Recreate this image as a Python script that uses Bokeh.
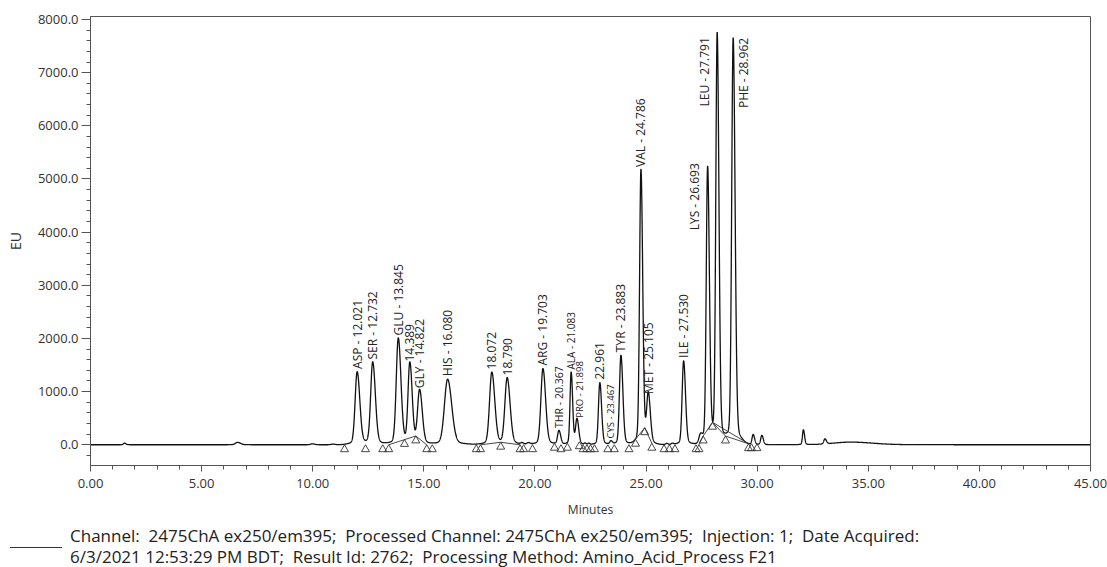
import math
import numpy as np
from bokeh.plotting import figure
from bokeh.layouts import column
from bokeh.models import (Range1d, SingleIntervalTicker, NumeralTickFormatter,
                          ColumnDataSource, Div)
from bokeh.core.properties import value
from bokeh.embed import file_html
from bokeh.resources import INLINE

# ---------------- data ----------------
# apex retention position (min), apex height (EU), peak sigma (min)
peak_times = [1.53, 6.62, 9.98, 10.9,
              12.00, 12.70, 13.85, 14.37, 14.81, 16.07, 18.06, 18.75,
              19.42, 19.70, 20.36, 21.08, 21.63, 21.89, 22.25, 22.42,
              22.92, 23.42, 23.87, 24.77, 25.10, 25.93, 26.18, 26.69,
              27.45, 27.77, 28.20, 28.92,
              29.82, 30.21, 32.08, 33.05, 34.2]
peak_heights = [30, 45, 18, 12,
                1370, 1548, 2000, 1510, 1008, 1233, 1360, 1247,
                25, 30, 1435, 260, 1360, 470, 25, 25,
                1170, 60, 1685, 5170, 900, 25, 25, 1578,
                150, 5200, 7700, 7650,
                190, 175, 280, 95, 50]
peak_sigmas = [0.05, 0.10, 0.08, 0.08,
               0.09, 0.09, 0.09, 0.08, 0.09, 0.14, 0.10, 0.10,
               0.05, 0.06, 0.09, 0.06, 0.05, 0.06, 0.04, 0.04,
               0.06, 0.05, 0.065, 0.06, 0.07, 0.05, 0.05, 0.065,
               0.07, 0.06, 0.06, 0.065,
               0.05, 0.05, 0.04, 0.05, 0.75]
peak_labels = ["", "", "", "",
               "ASP - 12.021", "SER - 12.732", "GLU - 13.845", "14.389",
               "GLY - 14.822", "HIS - 16.080", "18.072", "18.790",
               "", "", "ARG - 19.703", "THR - 20.367", "ALA - 21.083",
               "PRO - 21.898", "", "",
               "22.961", "CYS - 23.467", "TYR - 23.883", "VAL - 24.786",
               "MET - 25.105", "", "", "ILE - 27.530",
               "", "LYS - 26.693", "LEU - 27.791", "PHE - 28.962",
               "", "", "", "", ""]

# integration marks (peak start / end points): time (min), level (EU)
tri_t = [11.43, 12.375, 13.15, 13.42, 14.13, 14.64, 15.13, 15.38, 17.36, 17.55,
         18.46, 19.33, 19.49, 19.89, 20.88, 21.17, 21.46, 22.0, 22.17, 22.34,
         22.5, 22.68, 23.28, 23.57, 24.23, 24.525, 24.94, 25.26, 25.81, 26.05,
         26.30, 27.25, 27.38, 27.57, 27.99, 28.575, 29.61, 29.745, 29.99]
tri_eu = [0, 0, 0, 0, 100, 165, 0, 0, 0, 0,
          47, 0, 0, 0, 28, 0, 28, 56, 0, 0,
          0, 0, 0, 0, 0, 103, 320, 28, 0, 0,
          0, 0, 0, 164, 423, 164, 19, 19, 19]

# integration baselines drawn between marks
base_t = [[13.42, 14.64, 15.13], [17.55, 18.46, 19.33], [24.525, 24.94, 25.26],
          [27.38, 27.57, 27.99, 28.575, 29.61], [27.99, 29.61]]
base_eu = [[0, 165, 0], [0, 47, 0], [103, 320, 28],
           [0, 164, 423, 164, 19], [423, 19]]

x_ticks_interval = 5
y_ticks_interval = 1000
legend_line1 = ("Channel:&nbsp; 2475ChA ex250/em395;&nbsp; Processed Channel: 2475ChA ex250/em395;"
                "&nbsp; Injection: 1;&nbsp; Date Acquired:")
legend_line2 = ("6/3/2021 12:53:29 PM BDT;&nbsp; Result Id: 2762;&nbsp; "
                "Processing Method: Amino_Acid_Process F21")

# ---------------- styles ----------------
FONT = "Open Sans"
label_size = {"THR - 20.367": "10.5px", "ALA - 21.083": "10px",
              "PRO - 21.898": "9.5px", "CYS - 23.467": "9.5px"}
# pixel offsets for labels that were moved aside of their apex
label_shift = {"LYS - 26.693": (-13, 62), "LEU - 27.791": (-13, 71),
               "PHE - 28.962": (10, 70), "PRO - 21.898": (3, -2)}

X0, X1 = 0.0, 45.0
Y0, Y1 = -390.0, 8056.0
W, H_MAIN, H_LEG = 1107, 520, 47
B_LEFT, B_RIGHT, B_TOP, B_BOTTOM = 90, 17, 16, 55
frame_h = H_MAIN - B_TOP - B_BOTTOM
eu_per_px = (Y1 - Y0) / frame_h

# ---------------- trace ----------------
t = np.arange(X0, X1 + 1e-9, 0.004)
sig = np.zeros_like(t)
for t0, h, s in zip(peak_times, peak_heights, peak_sigmas):
    se = np.where(t < t0, s, s * 1.3)
    core = np.exp(-0.5 * ((t - t0) / se) ** 2)
    tail = np.exp(-0.5 * ((t - t0) / (3.5 * se)) ** 2)
    sig += h * (0.96 * core + 0.04 * tail)

p = figure(width=W, height=H_MAIN, x_range=Range1d(X0, X1), y_range=Range1d(Y0, Y1),
           output_backend="svg", toolbar_location=None,
           min_border_left=B_LEFT, min_border_right=B_RIGHT,
           min_border_top=B_TOP, min_border_bottom=B_BOTTOM)
p.grid.visible = False
p.outline_line_color = "#555555"
p.background_fill_color = "white"
p.border_fill_color = "white"

p.line(t, sig, line_color="#111111", line_width=1.3)

p.multi_line(base_t, base_eu, line_color="#333333", line_width=0.9)

tri_y = [v - 4.6 * eu_per_px for v in tri_eu]
p.scatter(tri_t, tri_y, marker="triangle", size=8, fill_alpha=0,
          line_color="#333333", line_width=0.9)

# peak labels
lx, ly, lt, lxo, lyo, lfs = [], [], [], [], [], []
for t0, h, lab in zip(peak_times, peak_heights, peak_labels):
    if not lab:
        continue
    dx, dy = label_shift.get(lab, (0, -3))
    lx.append(t0); ly.append(h); lt.append(lab)
    lxo.append(dx); lyo.append(dy)
    lfs.append(label_size.get(lab, "12px"))
src = ColumnDataSource(dict(x=lx, y=ly, text=lt, xo=lxo, yo=lyo, fs=lfs))
p.text(x="x", y="y", text="text", x_offset="xo", y_offset="yo",
       text_font_size="fs", angle=math.pi / 2, text_align="left",
       text_baseline="middle", text_font=value(FONT), text_color="#222222",
       source=src)

# axes
p.xaxis.ticker = SingleIntervalTicker(interval=x_ticks_interval, num_minor_ticks=5)
p.xaxis.formatter = NumeralTickFormatter(format="0.00")
p.yaxis.ticker = SingleIntervalTicker(interval=y_ticks_interval, num_minor_ticks=5)
p.yaxis.formatter = NumeralTickFormatter(format="0.0")
for ax in (p.xaxis[0], p.yaxis[0]):
    ax.axis_line_color = "#555555"
    ax.major_tick_line_color = "#555555"
    ax.minor_tick_line_color = "#555555"
    ax.major_tick_in = 0
    ax.minor_tick_in = 0
    ax.major_label_text_font = FONT
    ax.major_label_text_font_size = "13px"
    ax.major_label_text_color = "#333333"
    ax.axis_label_text_font = FONT
    ax.axis_label_text_font_style = "normal"
    ax.axis_label_text_color = "#333333"
p.xaxis.major_tick_out = 6
p.xaxis.minor_tick_out = 4
p.xaxis.major_label_standoff = 7
p.xaxis.axis_label = "Minutes"
p.xaxis.axis_label_text_font_size = "12px"
p.xaxis.axis_label_standoff = 10
p.yaxis.major_tick_out = 9
p.yaxis.minor_tick_out = 4
p.yaxis.major_label_standoff = 3
p.yaxis.axis_label = "EU"
p.yaxis.axis_label_text_font_size = "14px"
p.yaxis.axis_label_standoff = 10

# legend strip below the chart
legend_html = (
    f'<div style="position:relative;width:{W}px;height:{H_LEG}px;'
    f'font-family:\'{FONT}\';font-size:17px;color:#222222;">'
    '<div style="position:absolute;left:10px;top:27px;width:52px;'
    'border-top:1.2px solid #333333;"></div>'
    '<div style="position:absolute;left:70px;top:5px;line-height:21px;'
    f'white-space:nowrap;">{legend_line1}<br>{legend_line2}</div>'
    '</div>')
leg = Div(text=legend_html, width=W, height=H_LEG, margin=(0, 0, 0, 0))

layout = column(p, leg, spacing=0)
open("out.html", "w").write(file_html(layout, INLINE))
